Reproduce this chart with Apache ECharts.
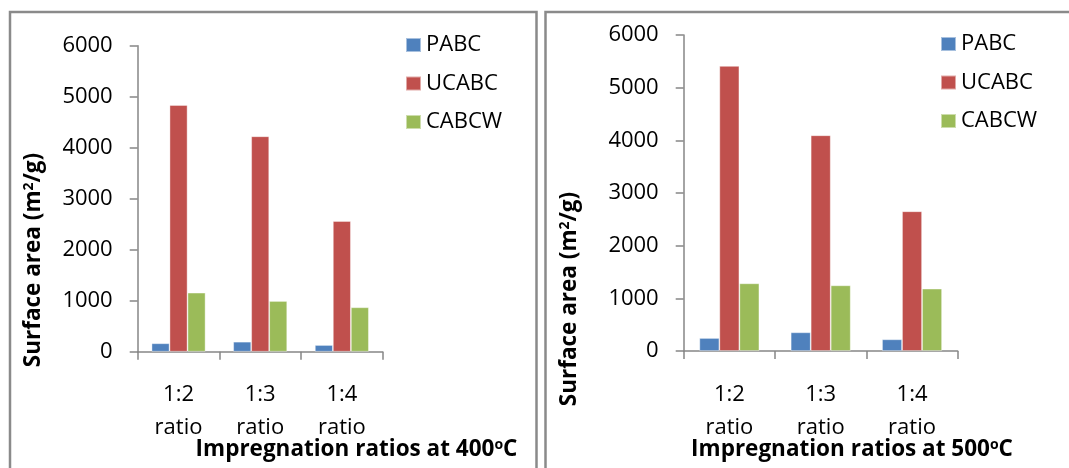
<!DOCTYPE html>
<html>
<head>
<meta charset="utf-8">
<script src="https://cdn.jsdelivr.net/npm/echarts@6/dist/echarts.min.js"></script>
<style>
html,body{margin:0;padding:0;background:#fff;}
#main{width:1069px;height:468px;}
</style>
</head>
<body>
<div id="main"></div>
<script>
// ---- data ----
const categories = ['1:2\nratio', '1:3\nratio', '1:4\nratio'];
const seriesNames = ['PABC', 'UCABC', 'CABCW'];
const pabc400 = [165, 196, 131];
const ucabc400 = [4837, 4224, 2563];
const cabcw400 = [1157, 994, 871];
const pabc500 = [247, 355, 222];
const ucabc500 = [5412, 4096, 2653];
const cabcw500 = [1285, 1247, 1184];
const yTicks = [0, 1000, 2000, 3000, 4000, 5000, 6000];

const colors = ['#4F81BD', '#C0504D', '#9BBB59'];
const FONT = "'Open Sans', sans-serif";
const axisGray = '#868686';

const chart = echarts.init(document.getElementById('main'));

function xAxisCfg(gi) {
  return {
    type: 'category', gridIndex: gi, data: categories,
    axisLine: {lineStyle: {color: axisGray, width: 1.5}},
    axisTick: {show: true, length: 8, lineStyle: {color: axisGray, width: 1.5}},
    axisLabel: {color: '#000', fontFamily: FONT, fontSize: 22, lineHeight: 33, margin: 27}
  };
}
function yAxisCfg(gi) {
  return {
    type: 'value', gridIndex: gi, min: yTicks[0], max: yTicks[yTicks.length - 1], interval: yTicks[1] - yTicks[0],
    axisLine: {show: true, lineStyle: {color: axisGray, width: 1.5}},
    axisTick: {show: true, length: 8, lineStyle: {color: axisGray, width: 1.5}},
    splitLine: {show: false},
    axisLabel: {color: '#000', fontFamily: FONT, fontSize: 22, margin: 25, formatter: v => String(v)}
  };
}
function barSeries(gi, data, idx, bw) {
  return {
    type: 'bar', name: seriesNames[idx], xAxisIndex: gi, yAxisIndex: gi,
    data: data, barWidth: bw, barGap: '0%',
    itemStyle: {color: colors[idx], borderColor: 'rgba(255,255,255,0.5)', borderWidth: 0.8},
    emphasis: {disabled: true}
  };
}
function legendCfg(left, top) {
  return {
    orient: 'vertical', left: left, top: top, icon: 'rect', padding: 0,
    itemWidth: 15, itemHeight: 14, itemGap: 14.5,
    textStyle: {color: '#000', fontFamily: FONT, fontSize: 22, lineHeight: 24},
    data: seriesNames
  };
}

const supRich = {
  a: {fontFamily: FONT, fontSize: 22.5, fontWeight: 'bold', fill: '#000'},
  s: {fontFamily: FONT, fontSize: 14, fontWeight: 'bold', fill: '#000', verticalAlign: 'top', padding: [0, 0, 10, 0]}
};

chart.setOption({
  animation: false,
  color: colors,
  grid: [
    {left: 137.7, top: 45.7, width: 245, height: 306},
    {left: 683.7, top: 35, width: 274, height: 316}
  ],
  xAxis: [xAxisCfg(0), xAxisCfg(1)],
  yAxis: [yAxisCfg(0), yAxisCfg(1)],
  legend: [legendCfg(405, 33), legendCfg(940, 32)],
  series: [
    barSeries(0, pabc400, 0, 18), barSeries(0, ucabc400, 1, 18), barSeries(0, cabcw400, 2, 18),
    barSeries(1, pabc500, 0, 20), barSeries(1, ucabc500, 1, 20), barSeries(1, cabcw500, 2, 20)
  ],
  graphic: [
    {type: 'rect', shape: {x: 10, y: 12, width: 526.5, height: 480}, style: {fill: 'none', stroke: '#8a8a8a', lineWidth: 2.5}, silent: true},
    {type: 'rect', shape: {x: 545.5, y: 12, width: 540, height: 480}, style: {fill: 'none', stroke: '#8a8a8a', lineWidth: 2.5}, silent: true},
    {type: 'text', x: 34, y: 260, rotation: Math.PI / 2,
      style: {text: '{a|Surface area (m}{s|2}{a|/g)}', rich: supRich, align: 'center', verticalAlign: 'middle'}},
    {type: 'text', x: 570, y: 299, rotation: Math.PI / 2,
      style: {text: '{a|Surface area (m}{s|2}{a|/g)}', rich: supRich, align: 'center', verticalAlign: 'middle'}},
    {type: 'text', x: 356.5, y: 450,
      style: {text: '{a|Impregnation ratios at 400}{s|o}{a|C}', rich: supRich, align: 'center', verticalAlign: 'middle'}},
    {type: 'text', x: 852, y: 450,
      style: {text: '{a|Impregnation ratios at 500}{s|o}{a|C}', rich: supRich, align: 'center', verticalAlign: 'middle'}}
  ]
});
</script>
</body>
</html>
